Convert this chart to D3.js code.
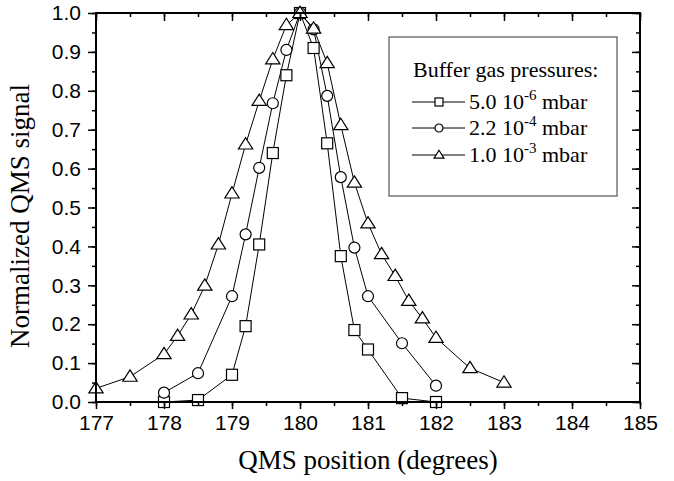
<!DOCTYPE html>
<html>
<head>
<meta charset="utf-8">
<script src="https://cdn.jsdelivr.net/npm/d3@7"></script>
<style>
    body { margin: 0; background: #fff; }
    svg text { fill: #000; }
</style>
</head>
<body>
<div id="chart"></div>
<script>
// QMS position (degrees) and normalized signal per buffer gas pressure
let xSquare = [178, 178.5, 179, 179.2, 179.4, 179.6, 179.8, 180, 180.2, 180.4, 180.6, 180.8, 181, 181.5, 182];
let ySquare = [0.0, 0.005, 0.07, 0.195, 0.405, 0.64, 0.84, 1.0, 0.91, 0.665, 0.375, 0.185, 0.135, 0.01, 0.0];

let xCircle = [178, 178.5, 179, 179.2, 179.4, 179.6, 179.8, 180, 180.2, 180.4, 180.6, 180.8, 181, 181.5, 182];
let yCircle = [0.024, 0.074, 0.272, 0.431, 0.602, 0.768, 0.905, 1.0, 0.958, 0.787, 0.578, 0.397, 0.272, 0.151, 0.042];

let xTriangle = [177, 177.5, 178, 178.2, 178.4, 178.6, 178.8, 179, 179.2, 179.4, 179.6, 179.8, 180, 180.2, 180.4, 180.6, 180.8, 181, 181.2, 181.4, 181.6, 181.8, 182, 182.5, 183];
let yTriangle = [0.035, 0.065, 0.123, 0.170, 0.225, 0.299, 0.405, 0.536, 0.662, 0.774, 0.881, 0.969, 1.0, 0.96, 0.871, 0.712, 0.564, 0.459, 0.380, 0.324, 0.260, 0.215, 0.165, 0.087, 0.050];

let legendTitle = "Buffer gas pressures:";
let legendMant = ["5.0 10", "2.2 10", "1.0 10"];
let legendExp = ["-6", "-4", "-3"];
let xTicks = [177, 178, 179, 180, 181, 182, 183, 184, 185];
let yTicks = [0.0, 0.1, 0.2, 0.3, 0.4, 0.5, 0.6, 0.7, 0.8, 0.9, 1.0];

let width = 674, height = 481;
let mLeft = 96, mRight = 640, mTop = 13, mBottom = 402;
let serif = "'Liberation Serif', 'Times New Roman', serif";
let sans = "'Liberation Sans', Arial, sans-serif";

let x = d3.scaleLinear().domain([177, 185]).range([mLeft, mRight]);
let y = d3.scaleLinear().domain([0, 1]).range([mBottom, mTop]);

let svg = d3.select("#chart")
    .append("svg")
    .attr("width", width)
    .attr("height", height);

// marker shapes, drawn around (0,0)
let marker = (g, kind, s) => {
    if (kind === "square") {
        g.append("rect")
            .attr("x", -s / 2).attr("y", -s / 2)
            .attr("width", s).attr("height", s);
    } else if (kind === "circle") {
        g.append("circle").attr("r", s / 2);
    } else {
        let h = s * 0.87;
        g.append("path")
            .attr("d", "M0," + (-h * 0.6) + "L" + (s * 0.55) + "," + (h * 0.4) + "L" + (-s * 0.55) + "," + (h * 0.4) + "Z");
    }
    g.selectAll("rect,circle,path")
        .attr("fill", "#fff")
        .attr("stroke", "#000")
        .attr("stroke-width", 1.2);
};

let series = [
    {kind: "square", xs: xSquare, ys: ySquare},
    {kind: "circle", xs: xCircle, ys: yCircle},
    {kind: "triangle", xs: xTriangle, ys: yTriangle}
];

let line = d3.line()
    .x((d) => x(d[0]))
    .y((d) => y(d[1]));

series.forEach((s) => {
    let pts = s.xs.map((v, i) => [v, s.ys[i]]);
    svg.append("path")
        .attr("d", line(pts))
        .attr("fill", "none")
        .attr("stroke", "#000")
        .attr("stroke-width", 1);
});

// markers on top, triangle last like the original
series.forEach((s) => {
    s.xs.forEach((v, i) => {
        let g = svg.append("g")
            .attr("transform", "translate(" + x(v) + "," + y(s.ys[i]) + ")");
        marker(g, s.kind, s.kind === "triangle" ? 13 : 11);
    });
});

// axes: main axes ticks out, opposite sides ticks in
let xMinor = d3.range(177, 185.01, 0.5);
let yMinor = d3.range(0, 1.001, 0.05);

svg.append("g")
    .attr("transform", "translate(0," + mBottom + ")")
    .call(d3.axisBottom(x).tickValues(xMinor).tickSize(4).tickFormat(""));
svg.append("g")
    .attr("transform", "translate(0," + mBottom + ")")
    .call(d3.axisBottom(x).tickValues(xTicks).tickSize(7).tickPadding(6).tickFormat(d3.format("d")))
    .selectAll("text").style("font-family", sans).style("font-size", "21px");

svg.append("g")
    .attr("transform", "translate(" + mLeft + ",0)")
    .call(d3.axisLeft(y).tickValues(yMinor).tickSize(4).tickFormat(""));
svg.append("g")
    .attr("transform", "translate(" + mLeft + ",0)")
    .call(d3.axisLeft(y).tickValues(yTicks).tickSize(8).tickPadding(7).tickFormat(d3.format(".1f")))
    .selectAll("text").style("font-family", sans).style("font-size", "21px");

svg.append("g")
    .attr("transform", "translate(0," + mTop + ")")
    .call(d3.axisBottom(x).tickValues(xMinor).tickSize(4).tickFormat(""));
svg.append("g")
    .attr("transform", "translate(0," + mTop + ")")
    .call(d3.axisBottom(x).tickValues(xTicks).tickSize(8).tickFormat(""));

svg.append("g")
    .attr("transform", "translate(" + mRight + ",0)")
    .call(d3.axisLeft(y).tickValues(yMinor).tickSize(4).tickFormat(""));
svg.append("g")
    .attr("transform", "translate(" + mRight + ",0)")
    .call(d3.axisLeft(y).tickValues(yTicks).tickSize(8).tickFormat(""));

svg.selectAll(".domain").remove();
svg.selectAll(".tick line").attr("stroke", "#000").attr("stroke-width", 1.5);

// frame
svg.append("rect")
    .attr("x", mLeft).attr("y", mTop)
    .attr("width", mRight - mLeft).attr("height", mBottom - mTop)
    .attr("fill", "none")
    .attr("stroke", "#000")
    .attr("stroke-width", 2);

// axis titles
svg.append("text")
    .attr("x", (mLeft + mRight) / 2)
    .attr("y", 469)
    .attr("text-anchor", "middle")
    .style("font-family", serif)
    .style("font-size", "27px")
    .text("QMS position (degrees)");

svg.append("text")
    .attr("transform", "translate(29,216) rotate(-90)")
    .attr("text-anchor", "middle")
    .style("font-family", serif)
    .style("font-size", "27px")
    .text("Normalized QMS signal");

// legend
let lg = svg.append("g");
lg.append("rect")
    .attr("x", 389).attr("y", 37)
    .attr("width", 228).attr("height", 159)
    .attr("fill", "#fff")
    .attr("stroke", "#555")
    .attr("stroke-width", 1.2);
lg.append("text")
    .attr("x", 413).attr("y", 77)
    .style("font-family", serif)
    .style("font-size", "22px")
    .text(legendTitle);

let rowY = [102, 128, 155];
series.forEach((s, i) => {
    lg.append("line")
        .attr("x1", 412).attr("x2", 465)
        .attr("y1", rowY[i]).attr("y2", rowY[i])
        .attr("stroke", "#000").attr("stroke-width", 1);
    let g = lg.append("g").attr("transform", "translate(439," + rowY[i] + ")");
    marker(g, s.kind, s.kind === "triangle" ? 9 : 8);
    let t = lg.append("text")
        .attr("x", 469).attr("y", rowY[i] + 7)
        .style("font-family", serif)
        .style("font-size", "22px");
    t.append("tspan").text(legendMant[i]);
    t.append("tspan").attr("dy", -9).style("font-size", "15px").text(legendExp[i]);
    t.append("tspan").attr("dy", 9).text(" mbar");
});
</script>
</body>
</html>
